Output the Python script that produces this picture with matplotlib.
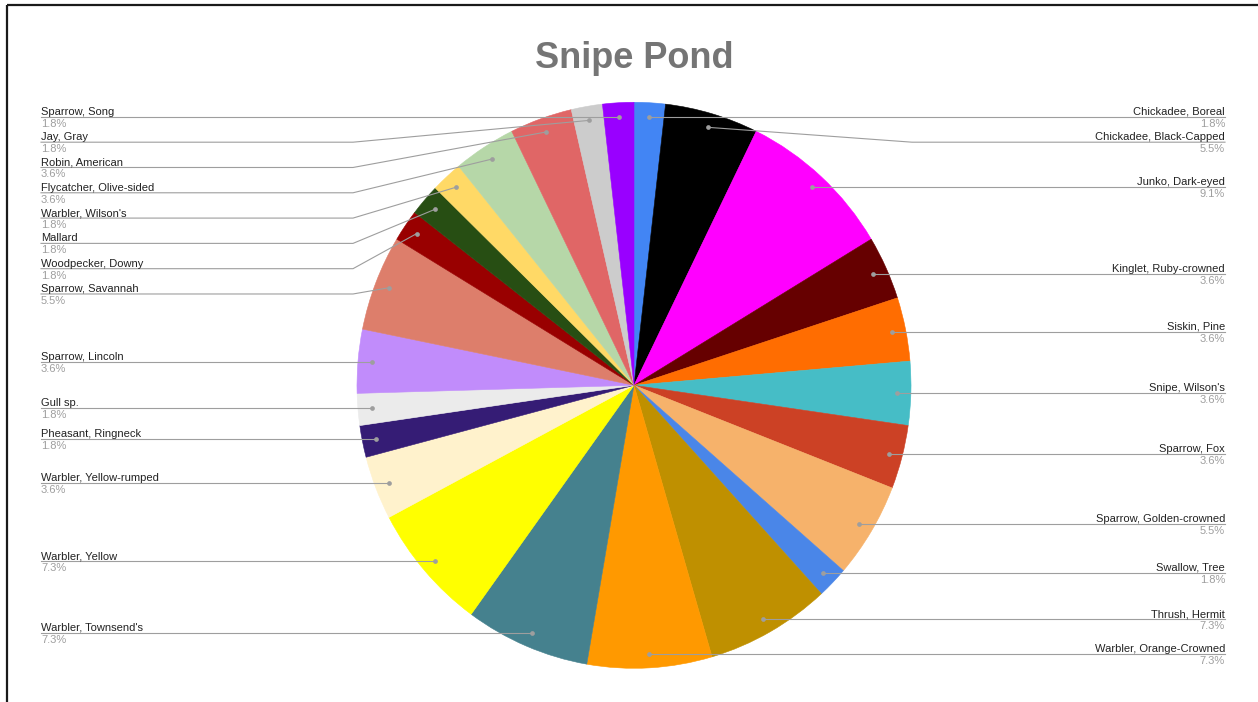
import matplotlib
matplotlib.use("Agg")
import matplotlib.pyplot as plt
from matplotlib.patches import Rectangle
import numpy as np

# bird counts, clockwise from 12 o'clock
species = [
    "Chickadee, Boreal", "Chickadee, Black-Capped", "Junko, Dark-eyed",
    "Kinglet, Ruby-crowned", "Siskin, Pine", "Snipe, Wilson's", "Sparrow, Fox",
    "Sparrow, Golden-crowned", "Swallow, Tree", "Thrush, Hermit",
    "Warbler, Orange-Crowned", "Warbler, Townsend's", "Warbler, Yellow",
    "Warbler, Yellow-rumped", "Pheasant, Ringneck", "Gull sp.", "Sparrow, Lincoln",
    "Sparrow, Savannah", "Woodpecker, Downy", "Mallard", "Warbler, Wilson's",
    "Flycatcher, Olive-sided", "Robin, American", "Jay, Gray", "Sparrow, Song",
]
counts = [1, 3, 5, 2, 2, 2, 2, 3, 1, 4, 4, 4, 4, 2, 1, 1, 2, 3, 1, 1, 1, 2, 2, 1, 1]
colors = [
    "#4285F4", "#000000", "#FF00FF", "#660000", "#FF6D01", "#46BDC6", "#CC4125",
    "#F6B26B", "#4A86E8", "#BF9000", "#FF9900", "#45818E", "#FFFF00", "#FFF2CC",
    "#351C75", "#EBEBEB", "#C18CFB", "#DD7E6B", "#990000", "#274E13", "#FFD966",
    "#B6D7A8", "#E06666", "#CCCCCC", "#9900FF",
]

W, H = 1258, 702
cx, cy = 634, 385.3     # pie centre in pixels
rx, ry = 277, 283       # screenshot is slightly stretched vertically
dot_r = 0.95
gap = 25.3
left_x, right_x = 41, 1225
line_col = "#9E9E9E"

plt.rcParams["font.family"] = ["Liberation Sans", "DejaVu Sans"]

fig = plt.figure(figsize=(W / 100, H / 100), dpi=100)

pie_ax = fig.add_axes([0, 0, 1, 1])
wedges, _ = pie_ax.pie(counts, colors=colors, startangle=90, counterclock=False,
                       radius=1, wedgeprops={"linewidth": 0.4})
for w, c in zip(wedges, colors):
    w.set_edgecolor(c)
pie_ax.set_aspect("auto")
pie_ax.set_xlim(-cx / rx, (W - cx) / rx)
pie_ax.set_ylim(-(H - cy) / ry, cy / ry)
pie_ax.axis("off")

ax = fig.add_axes([0, 0, 1, 1])
ax.set_xlim(0, W)
ax.set_ylim(H, 0)
ax.axis("off")

to_px = pie_ax.transData + ax.transData.inverted()
total = sum(counts)

dots = []
for w in wedges:
    mid = np.deg2rad((w.theta1 + w.theta2) / 2)
    dots.append(to_px.transform((dot_r * np.cos(mid), dot_r * np.sin(mid))))

# stack labels on each side so they don't overlap
label_y = {}
for side in ("left", "right"):
    idx = [i for i in range(len(species)) if (dots[i][0] < cx) == (side == "left")]
    idx.sort(key=lambda i: dots[i][1])
    prev = -1e9
    for i in idx:
        y = max(dots[i][1], prev + gap)
        label_y[i] = y
        prev = y

for i, name in enumerate(species):
    dx, dy = dots[i]
    ly = label_y[i]
    pct = f"{counts[i] / total * 100:.1f}%"
    if dx < cx:
        elbow = min(cx - rx - 4, dx)
        ax.plot([left_x, elbow, dx], [ly, ly, dy], color=line_col, lw=0.8, zorder=3)
        tx, ha = left_x, "left"
    else:
        elbow = max(cx + rx + 1, dx)
        ax.plot([dx, elbow, right_x], [dy, ly, ly], color=line_col, lw=0.8, zorder=3)
        tx, ha = right_x, "right"
    ax.plot(dx, dy, "o", color=line_col, ms=3.4, mec="none", zorder=4)
    ax.text(tx, ly - 2, name, ha=ha, va="baseline", fontsize=8, color="#222222")
    ax.text(tx, ly + 2, pct, ha=ha, va="top", fontsize=8, color="#9E9E9E")

ax.text(cx, 68, "Snipe Pond", ha="center", va="baseline", fontsize=26,
        fontweight="bold", color="#757575")

ax.add_patch(Rectangle((7, 5), 1400, 900, fill=False, edgecolor="#1A1A1A", lw=1.6))

fig.savefig("out.png", dpi=100)
